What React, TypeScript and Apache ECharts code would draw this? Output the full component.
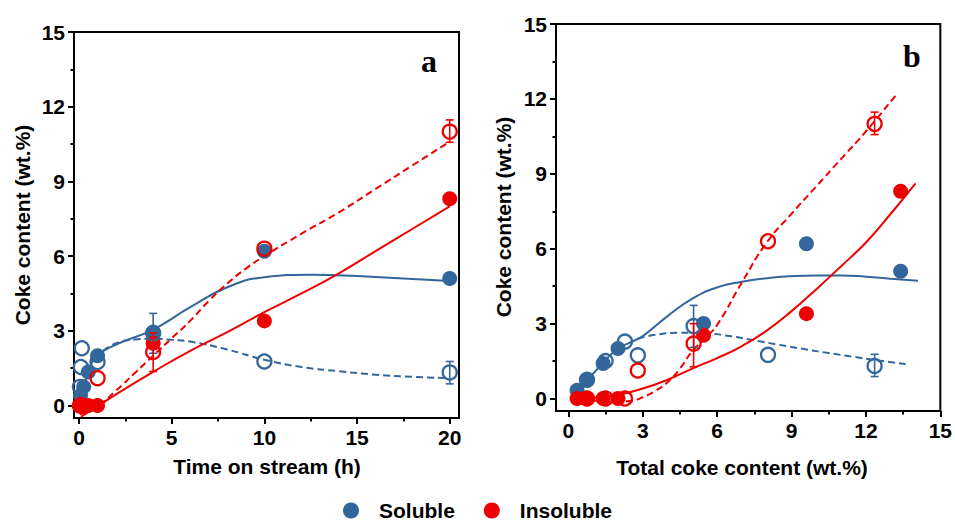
import React, { useEffect, useRef } from "react";
import * as echarts from "echarts";

// ---------- Panel a: time on stream ----------
const timeFilledA = [0.08, 0.25, 0.5, 1, 4, 10, 20];
const solubleFilledA = [0.4, 0.75, 1.35, 2.0, 2.95, 6.2, 5.1];
const insolubleFilledA = [0, 0, 0, 0, 2.5, 3.4, 8.3];
const timeOpenA = [0.05, 0.1, 0.15, 1, 4, 10, 20];
const solubleOpenA = [0.75, 1.55, 2.3, 1.75, 2.9, 1.77, 1.33];
const insolubleOpenA = [0, 0, 0, 1.1, 2.15, 6.3, 11.0];

// error bars [x, low, high]
const errSolubleA = [[4, 2.1, 3.7], [20, 0.87, 1.77]];
const errInsolubleA = [[4, 1.37, 2.92], [20, 10.57, 11.47]];

// fitted curves
const fitSolubleA_x = [0.05, 0.5, 1, 2, 4, 6, 8, 10, 12.5, 15, 17.5, 20];
const fitSolubleA_y = [0.1, 1.35, 2.0, 2.45, 3.05, 3.95, 4.75, 5.15, 5.25, 5.2, 5.1, 5.0];
const fitSolubleOpenA_x = [1.3, 2, 3, 4, 5, 6, 8, 10, 12, 14, 16, 18, 20];
const fitSolubleOpenA_y = [2.2, 2.5, 2.65, 2.68, 2.64, 2.57, 2.25, 1.84, 1.55, 1.38, 1.24, 1.15, 1.1];
const fitInsolubleA_x = [0.1, 1, 2, 4, 6, 8, 10, 12, 14, 16, 18, 20];
const fitInsolubleA_y = [-0.45, -0.03, 0.45, 1.35, 2.2, 2.95, 3.75, 4.5, 5.3, 6.2, 7.1, 8.0];
const fitInsolubleOpenA_x = [0.05, 1, 2, 3, 4, 5, 6, 7, 8, 9, 10, 12, 14, 16, 18, 20];
const fitInsolubleOpenA_y = [-0.35, -0.02, 0.6, 1.3, 2.0, 2.7, 3.4, 4.2, 4.9, 5.5, 6.0, 6.9, 7.75, 8.7, 9.65, 10.6];

// ---------- Panel b: total coke content ----------
const totalFilledB = [0.35, 0.75, 1.4, 2.0, 5.45, 9.6, 13.4];
const solubleFilledB = [0.33, 0.73, 1.4, 2.0, 3.0, 6.2, 5.1];
const insolubleFilledB = [0, 0, 0, 0, 2.53, 3.4, 8.3];
const totalOpenB = [0.75, 1.5, 2.28, 2.8, 5.05, 8.05, 12.35];
const solubleOpenB = [0.75, 1.5, 2.28, 1.73, 2.9, 1.75, 1.3];
const insolubleOpenB = [0, 0, 0, 1.12, 2.2, 6.3, 11.0];

const errSolubleB = [[5.05, 2.05, 3.73], [12.35, 0.88, 1.77]];
const errInsolubleB = [[5.05, 1.27, 3.0], [12.35, 10.57, 11.47]];

const fitSolubleB_x = [0.1, 0.5, 1, 1.5, 2, 2.5, 3, 4, 5, 6, 7, 8, 9, 10, 11, 12, 13, 14.1];
const fitSolubleB_y = [0.0, 0.5, 1.0, 1.55, 2.0, 2.25, 2.5, 3.3, 4.0, 4.45, 4.68, 4.82, 4.9, 4.93, 4.93, 4.88, 4.8, 4.72];
const fitSolubleOpenB_x = [2.8, 3.5, 4.5, 5.5, 6.5, 7.5, 8.5, 9.5, 10.5, 11.5, 12.5, 13.6];
const fitSolubleOpenB_y = [2.4, 2.55, 2.63, 2.62, 2.5, 2.33, 2.15, 1.98, 1.82, 1.67, 1.52, 1.38];
const fitInsolubleB_x = [0.1, 1, 2, 3, 4, 5, 6, 7, 8, 9, 10, 11, 12, 13, 14];
const fitInsolubleB_y = [0, 0.03, 0.15, 0.4, 0.75, 1.2, 1.62, 2.1, 2.72, 3.5, 4.38, 5.3, 6.25, 7.4, 8.62];
const fitInsolubleOpenB_x = [0.1, 1, 2, 2.5, 3, 3.5, 4, 4.5, 5, 5.5, 6, 7, 8, 9, 10, 11, 12, 13.25];
const fitInsolubleOpenB_y = [-0.05, -0.08, -0.13, -0.1, 0.05, 0.3, 0.65, 1.2, 1.9, 2.4, 2.95, 4.65, 6.25, 7.4, 8.5, 9.6, 10.7, 12.2];

// ticks
const yMajor = [0, 3, 6, 9, 12, 15];
const yMinor = [1.5, 4.5, 7.5, 10.5, 13.5];
const xMajorA = [0, 5, 10, 15, 20];
const xMinorA = [2.5, 7.5, 12.5, 17.5];
const xMajorB = [0, 3, 6, 9, 12, 15];
const xMinorB = [1.5, 4.5, 7.5, 10.5, 13.5];

const BLUE = "#33669a";
const RED = "#ee0000";
const FONT = "'Liberation Sans', Arial, sans-serif";

const zip = (xs: number[], ys: number[]) => xs.map((x, i) => [x, ys[i]]);

function majorAxis(gridIndex: number, min: number, max: number, ticks: number[], position: string) {
  return {
    type: "value",
    gridIndex,
    position,
    min,
    max,
    axisLine: { show: true, onZero: false, lineStyle: { color: "#000", width: 2 } },
    axisTick: { show: true, inside: false, length: 6, customValues: ticks, lineStyle: { color: "#000", width: 2 } },
    axisLabel: {
      show: true,
      customValues: ticks,
      margin: 9,
      color: "#000",
      fontSize: 21,
      fontWeight: "bold",
      fontFamily: FONT,
    },
    splitLine: { show: false },
  };
}
function minorAxis(gridIndex: number, min: number, max: number, ticks: number[], position: string) {
  return {
    type: "value",
    gridIndex,
    position,
    offset: 0,
    min,
    max,
    axisLine: { show: false, onZero: false },
    axisTick: { show: true, inside: false, length: 3.5, customValues: ticks, lineStyle: { color: "#000", width: 2 } },
    axisLabel: { show: false },
    splitLine: { show: false },
  };
}

function errSeries(data: number[][], color: string, xi: number, yi: number) {
  return {
    type: "custom",
    xAxisIndex: xi,
    yAxisIndex: yi,
    z: 5,
    silent: true,
    data,
    renderItem: (_p: any, api: any) => {
      const x = api.value(0);
      const lo = api.value(1);
      const hi = api.value(2);
      const a = api.coord([x, hi]);
      const b = api.coord([x, lo]);
      const w = 4;
      const st = { stroke: color, lineWidth: 1.6 };
      return {
        type: "group",
        children: [
          { type: "line", shape: { x1: a[0], y1: a[1], x2: b[0], y2: b[1] }, style: st },
          { type: "line", shape: { x1: a[0] - w, y1: a[1], x2: a[0] + w, y2: a[1] }, style: st },
          { type: "line", shape: { x1: b[0] - w, y1: b[1], x2: b[0] + w, y2: b[1] }, style: st },
        ],
      };
    },
  };
}

function curve(xs: number[], ys: number[], color: string, dashed: boolean, xi: number, yi: number) {
  return {
    type: "line",
    xAxisIndex: xi,
    yAxisIndex: yi,
    data: zip(xs, ys),
    smooth: 0.5,
    symbol: "none",
    silent: true,
    z: 2,
    lineStyle: { color, width: 2, type: dashed ? [7, 4] : "solid" },
  };
}

function filled(name: string | undefined, xs: number[], ys: number[], color: string, xi: number, yi: number) {
  return {
    type: "scatter",
    name,
    xAxisIndex: xi,
    yAxisIndex: yi,
    data: zip(xs, ys),
    symbol: "circle",
    symbolSize: 15,
    z: 3,
    itemStyle: { color, opacity: 1 },
  };
}
function open(xs: number[], ys: number[], color: string, xi: number, yi: number) {
  return {
    type: "scatter",
    xAxisIndex: xi,
    yAxisIndex: yi,
    data: zip(xs, ys),
    symbol: "circle",
    symbolSize: 14,
    z: 4,
    itemStyle: { color: "rgba(255,255,255,0)", borderColor: color, borderWidth: 2.3, opacity: 1 },
  };
}

export default function App() {
  const ref = useRef<HTMLDivElement>(null);
  useEffect(() => {
    if (!ref.current) return;
    const chart = echarts.init(ref.current, undefined, { renderer: "svg" });
    const titleStyle = { fill: "#000", fontSize: 21, fontWeight: "bold", fontFamily: FONT, align: "center", verticalAlign: "middle" };
    const serif = "'Liberation Serif', 'Times New Roman', serif";
    const option: any = {
      animation: false,
      backgroundColor: "#fff",
      grid: [
        { left: 74, top: 32, width: 385, height: 386, show: true, borderColor: "#000", borderWidth: 2, backgroundColor: "transparent" },
        { left: 556, top: 24, width: 386, height: 387, show: true, borderColor: "#000", borderWidth: 2, backgroundColor: "transparent" },
      ],
      xAxis: [
        majorAxis(0, -0.27, 20.5, xMajorA, "bottom"),
        majorAxis(1, -0.5, 15, xMajorB, "bottom"),
        minorAxis(0, -0.27, 20.5, xMinorA, "bottom"),
        minorAxis(1, -0.5, 15, xMinorB, "bottom"),
      ],
      yAxis: [
        majorAxis(0, -0.5, 15, yMajor, "left"),
        majorAxis(1, -0.5, 15, yMajor, "left"),
        minorAxis(0, -0.5, 15, yMinor, "left"),
        minorAxis(1, -0.5, 15, yMinor, "left"),
      ],
      legend: {
        data: ["Soluble", "Insoluble"],
        left: "center",
        top: 500,
        padding: 0,
        icon: "circle",
        itemWidth: 16,
        itemHeight: 16,
        itemGap: 29,
        textStyle: { color: "#000", fontSize: 21, fontWeight: "bold", fontFamily: FONT, padding: [0, 0, 0, 15] },
      },
      graphic: [
        { type: "text", x: 22, y: 225, rotation: Math.PI / 2, style: { ...titleStyle, text: "Coke content (wt.%)" } },
        { type: "text", x: 503, y: 217, rotation: Math.PI / 2, style: { ...titleStyle, text: "Coke content (wt.%)" } },
        { type: "text", x: 267, y: 466, style: { ...titleStyle, text: "Time on stream (h)" } },
        { type: "text", x: 742, y: 467, style: { ...titleStyle, text: "Total coke content (wt.%)" } },
        { type: "text", x: 429, y: 61, style: { fill: "#000", fontSize: 32, fontWeight: "bold", fontFamily: serif, align: "center", verticalAlign: "middle", text: "a" } },
        { type: "text", x: 912, y: 56, style: { fill: "#000", fontSize: 32, fontWeight: "bold", fontFamily: serif, align: "center", verticalAlign: "middle", text: "b" } },
      ],
      series: [
        // panel a curves
        curve(fitSolubleA_x, fitSolubleA_y, BLUE, false, 0, 0),
        curve(fitSolubleOpenA_x, fitSolubleOpenA_y, BLUE, true, 0, 0),
        curve(fitInsolubleA_x, fitInsolubleA_y, RED, false, 0, 0),
        curve(fitInsolubleOpenA_x, fitInsolubleOpenA_y, RED, true, 0, 0),
        // panel a points
        filled("Soluble", timeFilledA, solubleFilledA, BLUE, 0, 0),
        filled("Insoluble", timeFilledA, insolubleFilledA, RED, 0, 0),
        open(timeOpenA, solubleOpenA, BLUE, 0, 0),
        open(timeOpenA, insolubleOpenA, RED, 0, 0),
        errSeries(errSolubleA, BLUE, 0, 0),
        errSeries(errInsolubleA, RED, 0, 0),
        // panel b curves
        curve(fitSolubleB_x, fitSolubleB_y, BLUE, false, 1, 1),
        curve(fitSolubleOpenB_x, fitSolubleOpenB_y, BLUE, true, 1, 1),
        curve(fitInsolubleB_x, fitInsolubleB_y, RED, false, 1, 1),
        curve(fitInsolubleOpenB_x, fitInsolubleOpenB_y, RED, true, 1, 1),
        // panel b points
        filled(undefined, totalFilledB, solubleFilledB, BLUE, 1, 1),
        filled(undefined, totalFilledB, insolubleFilledB, RED, 1, 1),
        open(totalOpenB, solubleOpenB, BLUE, 1, 1),
        open(totalOpenB, insolubleOpenB, RED, 1, 1),
        errSeries(errSolubleB, BLUE, 1, 1),
        errSeries(errInsolubleB, RED, 1, 1),
      ],
    };
    chart.setOption(option);
    return () => chart.dispose();
  }, []);
  return <div ref={ref} style={{ width: 955, height: 525, position: "fixed", left: 0, top: 0 }} />;
}
